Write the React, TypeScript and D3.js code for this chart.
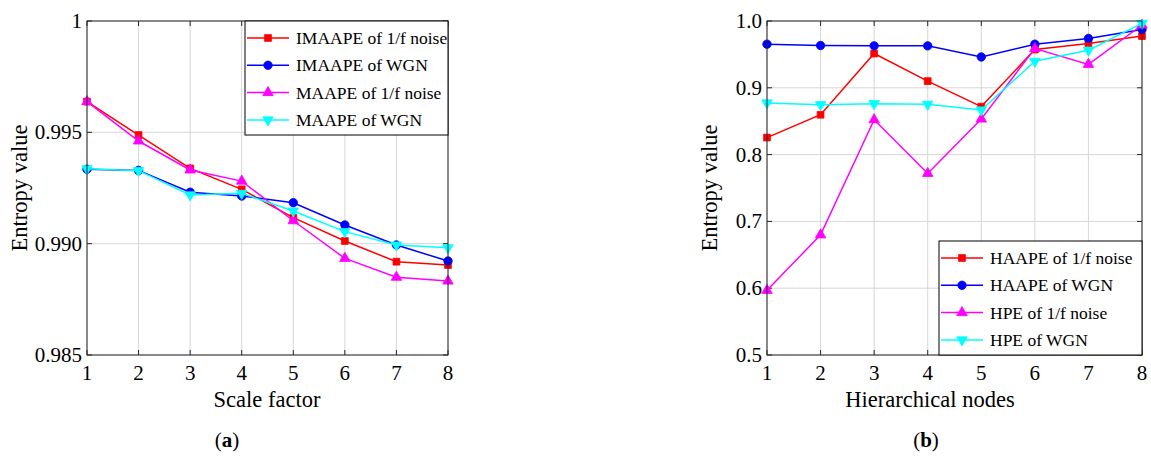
import React from "react";
import * as d3 from "d3";

// panel (a): scale factor
const scaleFactors = [1, 2, 3, 4, 5, 6, 7, 8];
const imaape1f = [0.99638, 0.99488, 0.99338, 0.99244, 0.99117, 0.99012, 0.98919, 0.98904];
const imaapeWgn = [0.99334, 0.99329, 0.99231, 0.99214, 0.99184, 0.99084, 0.98994, 0.98922];
const maape1f = [0.99638, 0.99461, 0.99331, 0.99281, 0.99103, 0.98934, 0.98849, 0.98832];
const maapeWgn = [0.99336, 0.99328, 0.99219, 0.99226, 0.99147, 0.99054, 0.98994, 0.98982];
const yTicksA = [0.985, 0.99, 0.995, 1];
const yLabelsA = ["0.985", "0.990", "0.995", "1"];

// panel (b): hierarchical nodes
const nodes = [1, 2, 3, 4, 5, 6, 7, 8];
const haape1f = [0.8255, 0.8597, 0.9513, 0.91, 0.8718, 0.9573, 0.9663, 0.9774];
const haapeWgn = [0.9653, 0.9633, 0.9628, 0.9628, 0.9462, 0.9653, 0.9739, 0.9874];
const hpe1f = [0.5968, 0.6798, 0.8522, 0.7718, 0.8532, 0.9588, 0.9351, 0.994];
const hpeWgn = [0.8774, 0.8748, 0.8763, 0.8753, 0.8668, 0.9397, 0.9563, 0.9965];
const yTicksB = [0.5, 0.6, 0.7, 0.8, 0.9, 1.0];

const FONT = "'Liberation Serif', 'Times New Roman', serif";
const AXIS = "#262626";
const GRID = "#d6d6d6";

type Series = { name: string; values: number[]; color: string; marker: string };

const seriesA: Series[] = [
  { name: "IMAAPE of 1/f noise", values: imaape1f, color: "#ff0000", marker: "square" },
  { name: "IMAAPE of WGN", values: imaapeWgn, color: "#0000ff", marker: "circle" },
  { name: "MAAPE of 1/f noise", values: maape1f, color: "#ff00ff", marker: "up" },
  { name: "MAAPE of WGN", values: maapeWgn, color: "#00ffff", marker: "down" },
];
const seriesB: Series[] = [
  { name: "HAAPE of 1/f noise", values: haape1f, color: "#ff0000", marker: "square" },
  { name: "HAAPE of WGN", values: haapeWgn, color: "#0000ff", marker: "circle" },
  { name: "HPE of 1/f noise", values: hpe1f, color: "#ff00ff", marker: "up" },
  { name: "HPE of WGN", values: hpeWgn, color: "#00ffff", marker: "down" },
];

const markerPath = (m: string) => {
  if (m === "square") return d3.symbol(d3.symbolSquare, 46)()!;
  if (m === "circle") return d3.symbol(d3.symbolCircle, 56)()!;
  return d3.symbol(d3.symbolTriangle, 48)()!;
};

const Marker = ({ x, y, s }: { x: number; y: number; s: Series }) => (
  <path
    d={markerPath(s.marker)}
    transform={`translate(${x},${y})${s.marker === "down" ? " rotate(180)" : ""}`}
    fill={s.color}
    stroke={s.color}
    strokeWidth={0.8}
  />
);

type PanelProps = {
  left: number;
  right: number;
  top: number;
  bottom: number;
  xs: number[];
  series: Series[];
  yDomain: [number, number];
  yTicks: number[];
  yLabels: string[];
  xLabel: string;
  xLabelX: number;
  yLabelX: number;
  legendTop: boolean;
  caption: string;
  captionX: number;
};

const Panel = (p: PanelProps) => {
  const x = d3.scaleLinear().domain([1, 8]).range([p.left, p.right]);
  const y = d3.scaleLinear().domain(p.yDomain).range([p.bottom, p.top]);
  const line = d3
    .line<number>()
    .x((_, i) => x(p.xs[i]))
    .y((d) => y(d));
  const tk = 5;
  const lw = 203;
  const lh = 114;
  const lx = p.right - lw;
  const ly = p.legendTop ? p.top : p.bottom - lh;
  const cy = (p.top + p.bottom) / 2;
  return (
    <g fontFamily={FONT} fill="#000">
      {/* grid */}
      {p.xs.map((v) => (
        <line key={"gx" + v} x1={x(v)} x2={x(v)} y1={p.top} y2={p.bottom} stroke={GRID} />
      ))}
      {p.yTicks.map((v) => (
        <line key={"gy" + v} x1={p.left} x2={p.right} y1={y(v)} y2={y(v)} stroke={GRID} />
      ))}
      {/* ticks */}
      {p.xs.map((v) => (
        <g key={"tx" + v} stroke={AXIS}>
          <line x1={x(v)} x2={x(v)} y1={p.bottom} y2={p.bottom - tk} />
          <line x1={x(v)} x2={x(v)} y1={p.top} y2={p.top + tk} />
        </g>
      ))}
      {p.yTicks.map((v) => (
        <g key={"ty" + v} stroke={AXIS}>
          <line x1={p.left} x2={p.left + tk} y1={y(v)} y2={y(v)} />
          <line x1={p.right} x2={p.right - tk} y1={y(v)} y2={y(v)} />
        </g>
      ))}
      {/* series */}
      {p.series.map((s) => (
        <g key={s.name}>
          <path d={line(s.values)!} fill="none" stroke={s.color} strokeWidth={1.5} />
          {s.values.map((v, i) => (
            <Marker key={i} x={x(p.xs[i])} y={y(v)} s={s} />
          ))}
        </g>
      ))}
      <rect x={p.left} y={p.top} width={p.right - p.left} height={p.bottom - p.top} fill="none" stroke={AXIS} />
      {/* tick labels */}
      {p.xs.map((v) => (
        <text key={"lx" + v} x={x(v)} y={p.bottom + 25} fontSize={21} textAnchor="middle">
          {v}
        </text>
      ))}
      {p.yTicks.map((v, i) => (
        <text key={"ly" + v} x={p.left - 5} y={y(v) + 7} fontSize={21} textAnchor="end">
          {p.yLabels[i]}
        </text>
      ))}
      <text x={p.xLabelX} y={407} fontSize={22.5} textAnchor="middle">
        {p.xLabel}
      </text>
      <text transform={`translate(${p.yLabelX},${cy}) rotate(-90)`} fontSize={22.5} textAnchor="middle">
        Entropy value
      </text>
      <text x={p.captionX} y={447} fontSize={21} textAnchor="middle">
        (<tspan fontWeight="bold">{p.caption}</tspan>)
      </text>
      {/* legend */}
      <rect x={lx} y={ly} width={lw} height={lh} fill="#fff" stroke="#000" />
      {p.series.map((s, i) => {
        const ey = ly + 17 + i * 27.3;
        return (
          <g key={"lg" + s.name}>
            <line x1={lx + 2} x2={lx + 44} y1={ey} y2={ey} stroke={s.color} strokeWidth={1.5} />
            <Marker x={lx + 23} y={ey} s={s} />
            <text x={lx + 51} y={ey + 6} fontSize={17.5}>
              {s.name}
            </text>
          </g>
        );
      })}
    </g>
  );
};

export default function App() {
  return (
    <svg
      width={1151}
      height={456}
      style={{ position: "absolute", left: 0, top: 0, background: "#fff" }}
    >
      <rect width={1151} height={456} fill="#fff" />
      <Panel
        left={87}
        right={448}
        top={21}
        bottom={355}
        xs={scaleFactors}
        series={seriesA}
        yDomain={[0.985, 1]}
        yTicks={yTicksA}
        yLabels={yLabelsA}
        xLabel="Scale factor"
        xLabelX={267}
        yLabelX={27}
        legendTop={true}
        caption="a"
        captionX={227}
      />
      <Panel
        left={767}
        right={1142}
        top={21}
        bottom={355}
        xs={nodes}
        series={seriesB}
        yDomain={[0.5, 1]}
        yTicks={yTicksB}
        yLabels={yTicksB.map((v) => v.toFixed(1))}
        xLabel="Hierarchical nodes"
        xLabelX={930}
        yLabelX={717}
        legendTop={false}
        caption="b"
        captionX={926}
      />
    </svg>
  );
}
